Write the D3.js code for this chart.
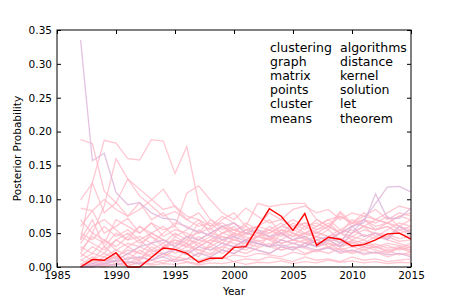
<!DOCTYPE html>
<html>
<head>
<meta charset="utf-8">
<script src="https://cdn.jsdelivr.net/npm/d3@7"></script>
<style>
body { margin: 0; background: #fff; }
svg text { font-family: "DejaVu Sans", sans-serif; }
</style>
</head>
<body>
<div id="chart"></div>
<script>
var years = [1987, 1988, 1989, 1990, 1991, 1992, 1993, 1994, 1995, 1996, 1997, 1998, 1999, 2000,
    2001, 2002, 2003, 2004, 2005, 2006, 2007, 2008, 2009, 2010, 2011, 2012, 2013, 2014, 2015];

var xTicks = [1985, 1990, 1995, 2000, 2005, 2010, 2015];
var yTicks = [0, 0.05, 0.10, 0.15, 0.20, 0.25, 0.30, 0.35];

var wordsLeft = ["clustering", "graph", "matrix", "points", "cluster", "means"];
var wordsRight = ["algorithms", "distance", "kernel", "solution", "let", "theorem"];

// highlighted topic
var topicSeries = [0.000, 0.011, 0.010, 0.021, 0.000, 0.000, 0.014, 0.028, 0.026, 0.020, 0.007, 0.013, 0.013, 0.029,
    0.030, 0.058, 0.086, 0.075, 0.054, 0.079, 0.032, 0.044, 0.041, 0.031, 0.033, 0.040, 0.049, 0.050, 0.041];

// all other topics (pink)
var otherSeries = [
    [0.188,0.182,0.112,0.095,0.130,0.105,0.090,0.075,0.082,0.070,0.060,0.065,0.050,0.055,0.048,0.052,0.045,0.040,0.050,0.042,0.035,0.040,0.038,0.030,0.035,0.028,0.032,0.025,0.030],
    [0.040,0.125,0.187,0.183,0.160,0.158,0.188,0.186,0.138,0.178,0.095,0.070,0.060,0.055,0.050,0.045,0.055,0.048,0.040,0.045,0.035,0.040,0.030,0.035,0.028,0.030,0.025,0.028,0.022],
    [0.020,0.050,0.090,0.160,0.130,0.115,0.100,0.085,0.090,0.075,0.070,0.060,0.065,0.055,0.060,0.050,0.045,0.055,0.050,0.040,0.045,0.038,0.042,0.035,0.040,0.030,0.035,0.032,0.028],
    [0.099,0.124,0.080,0.095,0.075,0.085,0.099,0.115,0.089,0.070,0.080,0.060,0.075,0.065,0.055,0.060,0.070,0.050,0.055,0.048,0.052,0.045,0.050,0.040,0.048,0.042,0.045,0.038,0.040],
    [0.087,0.083,0.050,0.060,0.072,0.050,0.065,0.055,0.060,0.045,0.050,0.058,0.040,0.050,0.045,0.038,0.042,0.035,0.040,0.036,0.030,0.035,0.032,0.038,0.030,0.034,0.028,0.030,0.025],
    [0.060,0.083,0.100,0.085,0.075,0.095,0.070,0.080,0.060,0.109,0.120,0.099,0.080,0.070,0.087,0.075,0.065,0.070,0.060,0.065,0.055,0.060,0.050,0.055,0.045,0.050,0.048,0.042,0.045],
    [0.040,0.070,0.030,0.050,0.040,0.060,0.045,0.035,0.050,0.040,0.065,0.055,0.070,0.080,0.060,0.094,0.089,0.092,0.094,0.094,0.070,0.060,0.075,0.065,0.070,0.060,0.065,0.055,0.060],
    [0.030,0.020,0.040,0.025,0.035,0.030,0.050,0.040,0.035,0.045,0.030,0.040,0.050,0.045,0.055,0.060,0.080,0.070,0.085,0.090,0.080,0.085,0.070,0.080,0.075,0.085,0.070,0.080,0.075],
    [0.020,0.010,0.030,0.015,0.025,0.020,0.015,0.030,0.025,0.035,0.020,0.030,0.040,0.035,0.030,0.045,0.040,0.050,0.045,0.060,0.065,0.055,0.080,0.060,0.070,0.065,0.075,0.060,0.070],
    [0.003,0.015,0.005,0.020,0.010,0.025,0.015,0.030,0.040,0.030,0.045,0.035,0.050,0.060,0.040,0.050,0.055,0.045,0.060,0.050,0.055,0.065,0.050,0.060,0.070,0.055,0.060,0.050,0.055],
    [0.010,0.005,0.015,0.008,0.020,0.012,0.025,0.018,0.030,0.022,0.035,0.025,0.030,0.040,0.035,0.030,0.045,0.035,0.040,0.050,0.045,0.040,0.050,0.045,0.055,0.050,0.045,0.060,0.050],
    [0.000,0.008,0.003,0.010,0.005,0.015,0.010,0.020,0.015,0.012,0.020,0.018,0.025,0.020,0.030,0.025,0.020,0.030,0.025,0.035,0.040,0.030,0.035,0.045,0.040,0.050,0.042,0.055,0.048],
    [0.050,0.040,0.060,0.045,0.055,0.040,0.050,0.060,0.045,0.055,0.070,0.050,0.060,0.045,0.055,0.050,0.040,0.055,0.045,0.050,0.060,0.070,0.055,0.065,0.060,0.070,0.065,0.075,0.080],
    [0.000,0.002,0.000,0.005,0.002,0.008,0.005,0.010,0.008,0.012,0.010,0.015,0.012,0.018,0.015,0.020,0.018,0.015,0.022,0.018,0.025,0.020,0.028,0.022,0.030,0.025,0.020,0.028,0.025],
    [0.015,0.030,0.020,0.040,0.050,0.035,0.045,0.030,0.040,0.035,0.055,0.045,0.035,0.050,0.040,0.035,0.030,0.040,0.035,0.030,0.040,0.035,0.030,0.040,0.035,0.045,0.040,0.035,0.030],
    [0.000,0.000,0.010,0.005,0.015,0.010,0.020,0.015,0.025,0.020,0.030,0.040,0.035,0.030,0.040,0.045,0.050,0.060,0.055,0.065,0.060,0.070,0.075,0.065,0.080,0.070,0.065,0.075,0.070],
    [0.025,0.045,0.035,0.070,0.060,0.050,0.065,0.045,0.055,0.050,0.040,0.050,0.045,0.040,0.035,0.045,0.040,0.030,0.035,0.040,0.030,0.035,0.025,0.030,0.025,0.020,0.025,0.018,0.022],
    [0.000,0.005,0.002,0.003,0.008,0.004,0.010,0.006,0.012,0.008,0.005,0.010,0.015,0.008,0.012,0.010,0.015,0.012,0.008,0.015,0.010,0.012,0.008,0.015,0.010,0.012,0.008,0.010,0.012],
    [0.035,0.060,0.070,0.055,0.040,0.045,0.035,0.050,0.065,0.060,0.050,0.070,0.055,0.065,0.050,0.060,0.055,0.065,0.050,0.045,0.050,0.060,0.050,0.070,0.060,0.055,0.060,0.050,0.045],
    [0.000,0.010,0.020,0.012,0.030,0.040,0.025,0.035,0.020,0.030,0.025,0.020,0.030,0.025,0.020,0.028,0.035,0.025,0.030,0.020,0.025,0.030,0.020,0.025,0.018,0.022,0.015,0.020,0.018],
    [0.005,0.000,0.008,0.015,0.005,0.010,0.030,0.020,0.010,0.025,0.015,0.035,0.025,0.045,0.030,0.040,0.030,0.050,0.040,0.035,0.045,0.055,0.040,0.050,0.060,0.045,0.055,0.065,0.060],
    [0.010,0.020,0.015,0.025,0.018,0.030,0.022,0.028,0.035,0.030,0.040,0.035,0.045,0.040,0.050,0.045,0.060,0.050,0.065,0.055,0.070,0.060,0.082,0.065,0.075,0.070,0.080,0.090,0.085],
    [0.000,0.003,0.001,0.004,0.002,0.006,0.003,0.005,0.004,0.007,0.003,0.006,0.005,0.008,0.004,0.007,0.006,0.009,0.005,0.008,0.006,0.010,0.007,0.009,0.006,0.008,0.005,0.007,0.006],
    [0.070,0.050,0.040,0.030,0.045,0.060,0.050,0.040,0.030,0.040,0.035,0.045,0.060,0.050,0.065,0.055,0.050,0.060,0.070,0.060,0.050,0.045,0.055,0.050,0.060,0.055,0.065,0.060,0.055],
    [0.045,0.035,0.025,0.040,0.030,0.020,0.035,0.025,0.045,0.035,0.025,0.030,0.020,0.030,0.025,0.035,0.030,0.025,0.030,0.028,0.022,0.030,0.025,0.020,0.025,0.030,0.022,0.028,0.035]
];

// a few topics drawn in a lavender tint
var lavenderSeries = [
    [0.335,0.157,0.168,0.110,0.092,0.095,0.080,0.072,0.070,0.058,0.052,0.047,0.040,0.045,0.038,0.035,0.030,0.033,0.028,0.030,0.025,0.028,0.022,0.025,0.020,0.022,0.018,0.020,0.015],
    [0.000,0.005,0.010,0.008,0.012,0.015,0.010,0.020,0.025,0.018,0.030,0.025,0.035,0.030,0.040,0.035,0.030,0.040,0.035,0.030,0.040,0.045,0.035,0.060,0.065,0.108,0.072,0.072,0.087],
    [0.000,0.002,0.005,0.003,0.008,0.005,0.010,0.015,0.008,0.012,0.020,0.015,0.025,0.020,0.030,0.025,0.020,0.030,0.025,0.035,0.030,0.040,0.030,0.050,0.070,0.094,0.118,0.119,0.111],
    [0.000,0.000,0.005,0.010,0.020,0.030,0.035,0.040,0.030,0.045,0.040,0.050,0.060,0.065,0.050,0.055,0.045,0.050,0.040,0.045,0.035,0.040,0.050,0.060,0.045,0.050,0.040,0.060,0.050]
];

var width = 457, height = 305;
var mLeft = 57, mRight = 411, mTop = 30, mBottom = 267;

var svg = d3.select("#chart")
    .append("svg")
    .attr("width", width)
    .attr("height", height);

var xScale = d3.scaleLinear().domain([1985, 2015]).range([mLeft, mRight]);
var yScale = d3.scaleLinear().domain([0, 0.35]).range([mBottom, mTop]);

var line = d3.line()
    .x((d, i) => xScale(years[i]))
    .y(d => yScale(d));

var plot = svg.append("g");

plot.selectAll(".other")
    .data(otherSeries)
    .enter()
    .append("path")
    .attr("class", "other")
    .attr("d", line)
    .attr("fill", "none")
    .attr("stroke", "#ffb6c4")
    .attr("stroke-opacity", 0.75)
    .attr("stroke-width", 1.3);

plot.selectAll(".lav")
    .data(lavenderSeries)
    .enter()
    .append("path")
    .attr("class", "lav")
    .attr("d", line)
    .attr("fill", "none")
    .attr("stroke", "#dcb4d8")
    .attr("stroke-opacity", 0.8)
    .attr("stroke-width", 1.3);

plot.append("path")
    .datum(topicSeries)
    .attr("d", line)
    .attr("fill", "none")
    .attr("stroke", "#ff0000")
    .attr("stroke-width", 1.4);

// axes, ticks pointing inward on all four sides
function styleAxis(g) {
    g.select(".domain").remove();
    g.selectAll(".tick line").attr("stroke", "#000");
    g.selectAll(".tick text")
        .attr("fill", "#000")
        .style("font-size", "10.5px")
        .style("font-family", "DejaVu Sans");
}

svg.append("g")
    .attr("transform", `translate(0, ${mBottom})`)
    .call(d3.axisBottom(xScale).tickValues(xTicks).tickFormat(d3.format("d")).tickSize(-4).tickPadding(5))
    .call(styleAxis);

svg.append("g")
    .attr("transform", `translate(0, ${mTop})`)
    .call(d3.axisTop(xScale).tickValues(xTicks).tickFormat("").tickSize(-4))
    .call(styleAxis);

svg.append("g")
    .attr("transform", `translate(${mLeft}, 0)`)
    .call(d3.axisLeft(yScale).tickValues(yTicks).tickFormat(d3.format(".2f")).tickSize(-4).tickPadding(5))
    .call(styleAxis);

svg.append("g")
    .attr("transform", `translate(${mRight}, 0)`)
    .call(d3.axisRight(yScale).tickValues(yTicks).tickFormat("").tickSize(-4))
    .call(styleAxis);

svg.append("rect")
    .attr("x", mLeft)
    .attr("y", mTop)
    .attr("width", mRight - mLeft)
    .attr("height", mBottom - mTop)
    .attr("fill", "none")
    .attr("stroke", "#000")
    .attr("stroke-width", 1);

svg.append("text")
    .attr("x", (mLeft + mRight) / 2)
    .attr("y", 295)
    .attr("text-anchor", "middle")
    .style("font-size", "10.5px")
    .text("Year");

svg.append("text")
    .attr("transform", `translate(21, ${(mTop + mBottom) / 2}) rotate(-90)`)
    .attr("text-anchor", "middle")
    .style("font-size", "10.5px")
    .text("Posterior Probability");

// top words of the topic
var words = svg.append("g").style("font-size", "12.5px");
words.selectAll(".wl")
    .data(wordsLeft)
    .enter()
    .append("text")
    .attr("x", 270)
    .attr("y", (d, i) => 52 + i * 14.1)
    .text(d => d);
words.selectAll(".wr")
    .data(wordsRight)
    .enter()
    .append("text")
    .attr("x", 340)
    .attr("y", (d, i) => 52 + i * 14.1)
    .text(d => d);
</script>
</body>
</html>
